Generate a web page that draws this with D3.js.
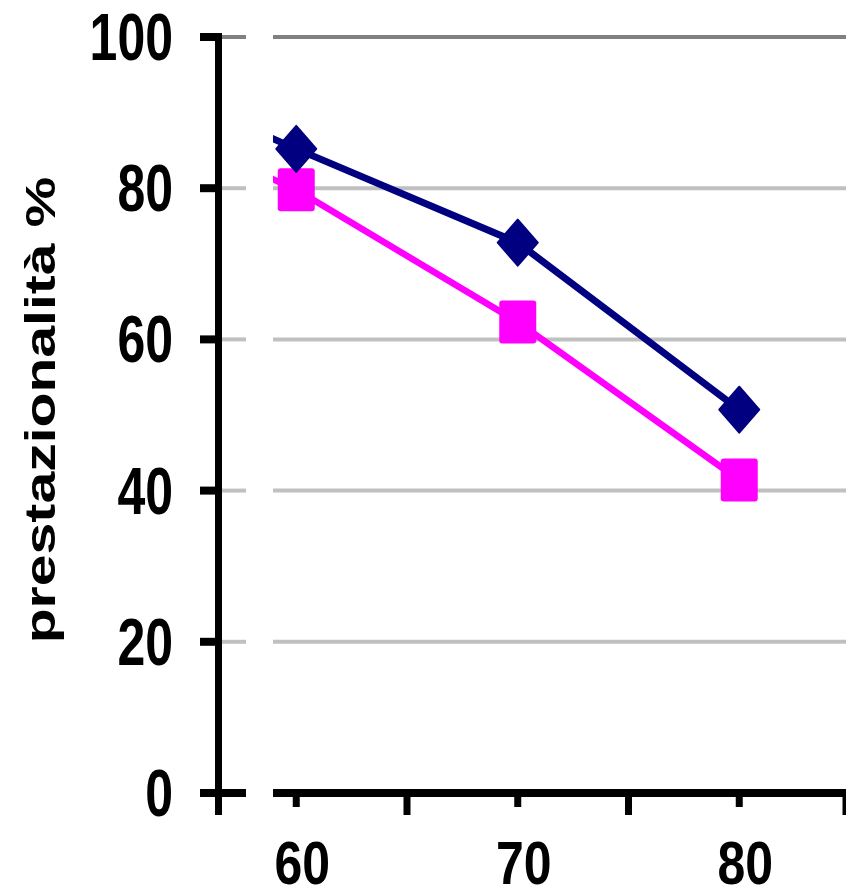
<!DOCTYPE html>
<html>
<head>
<meta charset="utf-8">
<script src="https://cdn.jsdelivr.net/npm/d3@7"></script>
<style>
body { margin: 0; background: #fff; }
text { font-family: "Liberation Sans", Arial, sans-serif; font-weight: bold; fill: #000; }
</style>
</head>
<body>
<svg id="chart" width="846" height="886"></svg>
<script>
var categories = ["50", "60", "70", "80"];
var xLabels = ["60", "70", "80"];
var seriesBlue = [98, 85.2, 72.8, 50.7];
var seriesPink = [93, 79.8, 62.3, 41.4];
var yTicks = [0, 20, 40, 60, 80, 100];
var yTitle = "prestazionalità %";

var COLOR_BLUE = "#000080";
var COLOR_PINK = "#FF00FF";
var STRETCH = 1.35;

var svg = d3.select("#chart");

var x = d3.scaleBand().domain(categories).range([-36, 850]).padding(0);
var y = d3.scaleLinear().domain([0, 100]).range([793, 37]);

function cx(c) { return x(c) + x.bandwidth() / 2; }

svg.append("defs").append("clipPath").attr("id", "plotClip")
	.append("rect").attr("x", 273).attr("y", 0).attr("width", 573).attr("height", 886);

// gridlines, two pieces each
var grid = svg.append("g");
[[222, 246], [273, 846]].forEach(function(seg) {
	grid.selectAll(null)
		.data(yTicks.filter(function(v) { return v > 0; }))
		.enter().append("line")
		.attr("x1", seg[0]).attr("x2", seg[1])
		.attr("y1", function(v) { return y(v); })
		.attr("y2", function(v) { return y(v); })
		.style("stroke", function(v) { return v == 100 ? "#808080" : "#C0C0C0"; })
		.style("stroke-width", 4);
});

// y axis
var yAxis = svg.append("g");
yAxis.append("line")
	.attr("x1", 218.5).attr("x2", 218.5).attr("y1", 33).attr("y2", 815)
	.style("stroke", "#000").style("stroke-width", 7);
yAxis.selectAll("line.tick")
	.data(yTicks)
	.enter().append("line")
	.attr("class", "tick")
	.attr("x1", 200)
	.attr("x2", function(v) { return v == 0 ? 246 : 218; })
	.attr("y1", function(v) { return y(v); })
	.attr("y2", function(v) { return y(v); })
	.style("stroke", "#000").style("stroke-width", 8);
yAxis.selectAll("text")
	.data(yTicks)
	.enter().append("text")
	.attr("text-anchor", "end")
	.attr("font-size", 50)
	.attr("transform", function(v) { return "translate(173," + (y(v) + 23) + ") scale(1," + STRETCH + ")"; })
	.text(function(v) { return v; });

svg.append("text")
	.attr("text-anchor", "middle")
	.attr("font-size", 42)
	.attr("transform", "translate(55,410) rotate(-90) scale(1.36,1)")
	.text(yTitle);

// x axis
var xAxis = svg.append("g");
xAxis.append("line")
	.attr("x1", 273).attr("x2", 846).attr("y1", y(0)).attr("y2", y(0))
	.style("stroke", "#000").style("stroke-width", 8);
xAxis.selectAll("line.mid")
	.data(categories.slice(1))
	.enter().append("line")
	.attr("class", "mid")
	.attr("x1", cx).attr("x2", cx)
	.attr("y1", y(0)).attr("y2", 807)
	.style("stroke", "#000").style("stroke-width", 7);
xAxis.selectAll("line.edge")
	.data(categories.slice(2).concat(["end"]))
	.enter().append("line")
	.attr("class", "edge")
	.attr("x1", function(c) { return c == "end" ? 846 : x(c); })
	.attr("x2", function(c) { return c == "end" ? 846 : x(c); })
	.attr("y1", y(0)).attr("y2", 815)
	.style("stroke", "#000").style("stroke-width", 7);
xAxis.selectAll("text")
	.data(xLabels)
	.enter().append("text")
	.attr("text-anchor", "middle")
	.attr("font-size", 50)
	.attr("transform", function(c) { return "translate(" + (cx(c) + 6) + ",884) scale(1,1.22)"; })
	.text(function(c) { return c; });

// series
var plot = svg.append("g").attr("clip-path", "url(#plotClip)");
var line = d3.line()
	.x(function(d, i) { return cx(categories[i]); })
	.y(function(d) { return y(d); });

plot.append("path").datum(seriesPink)
	.attr("d", line)
	.style("fill", "none").style("stroke", COLOR_PINK).style("stroke-width", 6.5);
plot.append("path").datum(seriesBlue)
	.attr("d", line)
	.style("fill", "none").style("stroke", COLOR_BLUE).style("stroke-width", 7);

plot.selectAll("rect.sq")
	.data(seriesPink)
	.enter().append("rect")
	.attr("class", "sq")
	.attr("x", function(d, i) { return cx(categories[i]) - 18.5; })
	.attr("y", function(d) { return y(d) - 21.5; })
	.attr("width", 37).attr("height", 43)
	.attr("rx", 3).attr("ry", 3)
	.style("fill", COLOR_PINK);

plot.selectAll("path.dia")
	.data(seriesBlue)
	.enter().append("path")
	.attr("class", "dia")
	.attr("d", function(d, i) {
		var px = cx(categories[i]), py = y(d);
		return "M" + px + "," + (py - 23) + "L" + (px + 20) + "," + py +
			"L" + px + "," + (py + 23) + "L" + (px - 20) + "," + py + "Z";
	})
	.style("fill", COLOR_BLUE)
	.style("stroke", COLOR_BLUE).style("stroke-width", 2).style("stroke-linejoin", "round");
</script>
</body>
</html>
